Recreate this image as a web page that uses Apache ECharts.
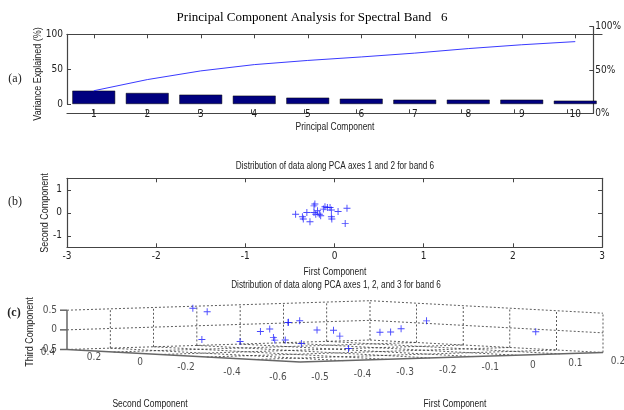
<!DOCTYPE html>
<html><head><meta charset="utf-8">
<script src="https://cdn.jsdelivr.net/npm/echarts@6/dist/echarts.min.js"></script>
<style>html,body{margin:0;padding:0;background:#fff}#c{width:624px;height:410px}</style>
</head><body><div id="c"></div>
<script>
// ---------------- data ----------------
const components = ['1','2','3','4','5','6','7','8','9','10'];
const varianceExplained = [19.1, 15.8, 13.4, 12.0, 9.1, 7.6, 6.2, 6.2, 6.2, 4.8];
const cumulativeExplained = [19, 35, 47.5, 56.5, 62.5, 67.5, 73, 79.5, 85, 89.5];
const leftTicks = [0, 50, 100];
const rightTicks = [0, 50, 100];

// scores of the samples on PCA axes 1, 2, 3
const pc1 = [-0.436, -0.36, -0.35, -0.31, -0.275, -0.23, -0.22, -0.23, -0.21, -0.17, -0.155,
             -0.125, -0.107, -0.08, -0.05, -0.035, -0.035, -0.03, 0.04, 0.14, 0.12, -0.19];
const pc2 = [-0.06, -0.17, -0.27, 0.01, -0.39, 0.30, 0.38, 0.01, -0.06, -0.06, -0.13,
             0.16, 0.26, 0.23, 0.23, 0.12, -0.17, -0.27, 0.06, 0.20, -0.46, 0.09];
const pc3 = [-0.12, 0.09, 0.35, -0.24, -0.3, 0.40, 0.46, -0.23, 0.28, 0.03, -0.11,
             -0.31, -0.07, 0.1, -0.45, -0.08, 0.05, 0.28, -0.14, -0.21, 0.01, -0.2];

const bXTicks = [-3, -2, -1, 0, 1, 2, 3];
const bYTicks = [-1, 0, 1];
const pc1Ticks3d = [-0.5, -0.4, -0.3, -0.2, -0.1, 0, 0.1, 0.2];
const pc2Ticks3d = [0.4, 0.2, 0, -0.2, -0.4, -0.6];
const pc3Ticks3d = [-0.5, 0, 0.5];

// ---------------- styles ----------------
const NARROW = "'Liberation Sans Narrow','DejaVu Sans Condensed',sans-serif";
const SANS = "'Liberation Sans',Arial,sans-serif";
const SERIF = "'Liberation Serif','DejaVu Serif',serif";
const AXC = '#444';
const TXT = '#222';
const PLUS = 'path://M0,2.6H2.6V0H3.4V2.6H6V3.4H3.4V6H2.6V3.4H0Z';
const BLUE = '#1a1aff';

// ---------------- 3-D view (orthographic) ----------------
const X1MIN = pc1Ticks3d[0], X1MAX = pc1Ticks3d[pc1Ticks3d.length - 1];
const X2MAX = pc2Ticks3d[0], X2MIN = pc2Ticks3d[pc2Ticks3d.length - 1];
const ZMIN = pc3Ticks3d[0], ZMAX = pc3Ticks3d[pc3Ticks3d.length - 1];
const VIEW = { o: [67, 349.5], u: [303, -9.5], v: [233, 12.5], w: [0, -39.3] };
function proj(a, b, c) {
  const u = (a - X1MIN) / (X1MAX - X1MIN);
  const v = (X2MAX - b) / (X2MAX - X2MIN);
  const w = (c - ZMIN) / (ZMAX - ZMIN);
  return [VIEW.o[0] + u * VIEW.u[0] + v * VIEW.v[0] + w * VIEW.w[0],
          VIEW.o[1] + u * VIEW.u[1] + v * VIEW.v[1] + w * VIEW.w[1]];
}
const dash = [], solid = [];
for (const z of pc3Ticks3d) dash.push([...proj(X1MIN, X2MAX, z), ...proj(X1MAX, X2MAX, z)]);
for (const t of pc1Ticks3d) if (t > X1MIN) dash.push([...proj(t, X2MAX, ZMIN), ...proj(t, X2MAX, ZMAX)]);
for (const z of pc3Ticks3d) dash.push([...proj(X1MAX, X2MAX, z), ...proj(X1MAX, X2MIN, z)]);
for (const t of pc2Ticks3d) if (t < X2MAX) dash.push([...proj(X1MAX, t, ZMIN), ...proj(X1MAX, t, ZMAX)]);
for (const t of pc1Ticks3d) if (t > X1MIN && t < X1MAX) dash.push([...proj(t, X2MAX, ZMIN), ...proj(t, X2MIN, ZMIN)]);
for (const t of pc2Ticks3d) if (t < X2MAX && t > X2MIN) dash.push([...proj(X1MIN, t, ZMIN), ...proj(X1MAX, t, ZMIN)]);
solid.push([...proj(X1MIN, X2MAX, ZMIN), ...proj(X1MIN, X2MAX, ZMAX)]);
solid.push([...proj(X1MIN, X2MAX, ZMIN), ...proj(X1MIN, X2MIN, ZMIN)]);
solid.push([...proj(X1MIN, X2MIN, ZMIN), ...proj(X1MAX, X2MIN, ZMIN)]);
for (const z of pc3Ticks3d) { const p = proj(X1MIN, X2MAX, z); solid.push([p[0] - 7, p[1], p[0], p[1]]); }

const fmt = t => String(Math.round(t * 10) / 10);
const labels3d = [];
pc2Ticks3d.forEach(t => { const v = (X2MAX - t) / (X2MAX - X2MIN); const p = proj(X1MIN, t, ZMIN);
  labels3d.push([p[0] - 19 - 3 * v, p[1] + 2.5 + 12.5 * v, fmt(t)]); });
pc1Ticks3d.forEach(t => { const u = (t - X1MIN) / (X1MAX - X1MIN); const p = proj(t, X2MIN, ZMIN);
  labels3d.push([p[0] + 20 - 5 * u, p[1] + 15 - 6.5 * u, fmt(t)]); });
const zLabels = pc3Ticks3d.map(t => { const p = proj(X1MIN, X2MAX, t); return [p[0] - 10, p[1], fmt(t)]; });
const points3d = pc1.map((a, i) => proj(a, pc2[i], pc3[i]));

function segSeries(data, color, width, lineDash, z) {
  return { type: 'custom', coordinateSystem: 'cartesian2d', xAxisIndex: 5, yAxisIndex: 4, silent: true, z: z,
    data: data, encode: { x: [0, 2], y: [1, 3] },
    renderItem: (params, api) => {
      const p1 = api.coord([api.value(0), api.value(1)]);
      const p2 = api.coord([api.value(2), api.value(3)]);
      return { type: 'line', shape: { x1: p1[0], y1: p1[1], x2: p2[0], y2: p2[1] },
        style: { stroke: color, lineWidth: width, lineDash: lineDash } };
    } };
}

const lbl = { fontFamily: NARROW, fontSize: 10, color: TXT };
const axLine = { show: true, onZero: false, lineStyle: { color: AXC, width: 1.2 } };
const inTick = { show: true, inside: true, length: 4, lineStyle: { color: AXC } };
function txt(s, x, y, font, opts) {
  return Object.assign({ type: 'text', x: x, y: y, silent: true,
    style: { text: s, font: font, fill: TXT, textAlign: 'center', textVerticalAlign: 'middle' } }, opts || {});
}
const NF = '10px ' + SANS;

const option = {
  animation: false,
  backgroundColor: '#fff',
  grid: [
    { left: 67, top: 34.3, width: 535, height: 69.7 },
    { left: 67, top: 26.7, width: 535, height: 86.6 },
    { left: 67, top: 178.3, width: 535, height: 69 },
    { left: 0, top: 0, width: 624, height: 410 }
  ],
  xAxis: [
    { gridIndex: 0, type: 'category', data: components, position: 'bottom',
      axisLine: { show: false }, axisTick: { show: false }, axisLabel: Object.assign({ margin: 5 }, lbl) },
    { gridIndex: 0, type: 'category', data: components, position: 'top',
      axisLine: axLine, axisTick: Object.assign({ alignWithLabel: true }, inTick), axisLabel: { show: false } },
    { gridIndex: 1, type: 'category', data: components, position: 'bottom',
      axisLine: axLine, axisTick: Object.assign({ alignWithLabel: true }, inTick), axisLabel: { show: false } },
    { gridIndex: 2, type: 'value', min: -3, max: 3, interval: 1, position: 'bottom',
      axisLine: axLine, axisTick: inTick, splitLine: { show: false }, axisLabel: Object.assign({ margin: 4 }, lbl) },
    { gridIndex: 2, type: 'value', min: -3, max: 3, interval: 1, position: 'top',
      axisLine: axLine, axisTick: inTick, splitLine: { show: false }, axisLabel: { show: false } },
    { gridIndex: 3, type: 'value', min: 0, max: 624, show: false }
  ],
  yAxis: [
    { gridIndex: 0, type: 'value', min: 0, max: 100, interval: 50, position: 'left',
      axisLine: axLine, axisTick: inTick, splitLine: { show: false }, axisLabel: Object.assign({ margin: 4 }, lbl) },
    { gridIndex: 1, type: 'value', min: 0, max: 100, interval: 50, position: 'right',
      axisLine: axLine, axisTick: inTick, splitLine: { show: false },
      axisLabel: Object.assign({ margin: 2, formatter: '{value}%' }, lbl) },
    { gridIndex: 2, type: 'value', min: -1.5, max: 1.5, position: 'left',
      axisLine: axLine, axisTick: Object.assign({ customValues: bYTicks }, inTick), splitLine: { show: false },
      axisLabel: Object.assign({ margin: 5, customValues: bYTicks }, lbl) },
    { gridIndex: 2, type: 'value', min: -1.5, max: 1.5, position: 'right',
      axisLine: axLine, axisTick: Object.assign({ customValues: bYTicks }, inTick), splitLine: { show: false },
      axisLabel: { show: false } },
    { gridIndex: 3, type: 'value', min: 0, max: 410, inverse: true, show: false }
  ],
  graphic: [
    txt('Principal Component Analysis for Spectral Band   6', 312, 18, '13px ' + SERIF, { style: { text: 'Principal Component Analysis for Spectral Band   6', font: '13px ' + SERIF, fill: '#000', textAlign: 'center', textVerticalAlign: 'middle' } }),
    txt('(a)', 15, 79, '12px ' + SERIF),
    txt('Variance Explained (%)', 38, 74, NF, { rotation: Math.PI / 2, scaleX: 0.9 }),
    txt('Principal Component', 335, 127, NF, { scaleX: 0.85 }),
    txt('Distribution of data along PCA axes 1 and 2 for band 6', 335, 166, NF, { scaleX: 0.82 }),
    txt('(b)', 15, 202, '12px ' + SERIF),
    txt('Second Component', 45, 213, NF, { rotation: Math.PI / 2, scaleX: 0.9 }),
    txt('First Component', 335, 272, NF, { scaleX: 0.85 }),
    txt('Distribution of data along PCA axes 1, 2, and 3 for band 6', 336, 285, NF, { scaleX: 0.82 }),
    txt('(c)', 14, 313, 'bold 12px ' + SERIF),
    txt('Third Component', 30, 332, NF, { rotation: Math.PI / 2, scaleX: 0.9 }),
    txt('Second Component', 150, 404, NF, { scaleX: 0.85 }),
    txt('First Component', 455, 404, NF, { scaleX: 0.85 })
  ],
  series: [
    { type: 'bar', xAxisIndex: 0, yAxisIndex: 0, data: varianceExplained, barCategoryGap: '20%',
      itemStyle: { color: '#00007f', borderColor: '#000', borderWidth: 0.5 }, silent: true },
    { type: 'line', xAxisIndex: 0, yAxisIndex: 0, data: cumulativeExplained, symbol: 'none',
      lineStyle: { color: '#3a3aff', width: 1 }, z: 3, silent: true },
    { type: 'scatter', xAxisIndex: 3, yAxisIndex: 2, data: pc1.map((a, i) => [a, pc2[i]]),
      symbol: PLUS, symbolSize: 7, itemStyle: { color: BLUE }, silent: true },
    segSeries(dash, '#333', 0.8, [2, 2], 1),
    segSeries(solid, '#666', 1.5, null, 2),
    { type: 'scatter', xAxisIndex: 5, yAxisIndex: 4, data: labels3d, symbolSize: 0, silent: true,
      label: { show: true, position: 'inside', formatter: p => p.value[2], fontFamily: NARROW, fontSize: 10, color: TXT } },
    { type: 'scatter', xAxisIndex: 5, yAxisIndex: 4, data: zLabels, symbolSize: 0, silent: true,
      label: { show: true, position: 'left', distance: 0, formatter: p => p.value[2], fontFamily: NARROW, fontSize: 10, color: TXT } },
    { type: 'scatter', xAxisIndex: 5, yAxisIndex: 4, data: points3d, symbol: PLUS, symbolSize: 7,
      itemStyle: { color: BLUE }, silent: true, z: 5 }
  ]
};
const chart = echarts.init(document.getElementById('c'), null, { renderer: 'canvas' });
chart.setOption(option);
</script></body></html>
